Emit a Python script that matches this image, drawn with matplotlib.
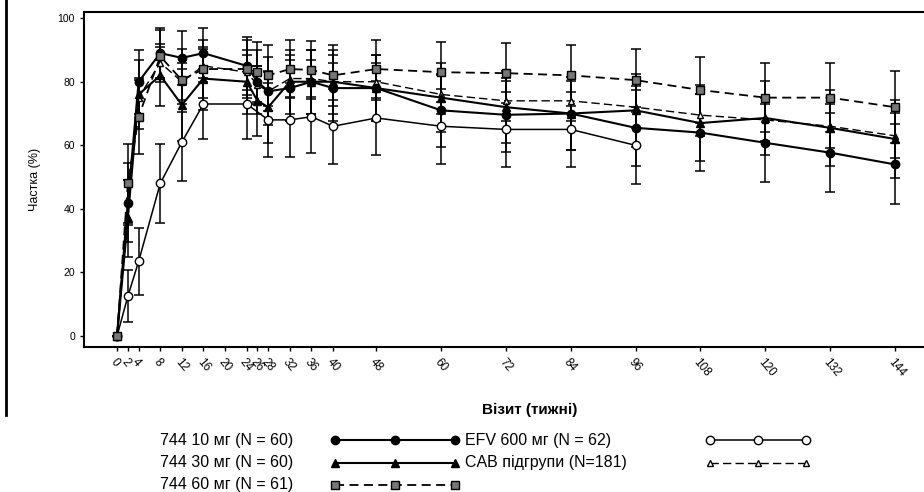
import numpy as np
import matplotlib
matplotlib.use("Agg")
import matplotlib.pyplot as plt

plt.rcParams['font.family'] = ['Liberation Sans', 'DejaVu Sans']

# visit weeks
weeks_cab = [0, 2, 4, 8, 12, 16, 24, 26, 28, 32, 36, 40, 48, 60, 72, 84, 96, 108, 120, 132, 144]
weeks_efv = [0, 2, 4, 8, 12, 16, 24, 28, 32, 36, 40, 48, 60, 72, 84, 96]
tick_weeks = [0, 2, 4, 8, 12, 16, 20, 24, 26, 28, 32, 36, 40, 48, 60, 72, 84, 96, 108, 120, 132, 144]

# proportion (%)
cab10 = [0, 42, 80, 89, 87.5, 89, 85, 80, 77, 78, 80, 78, 78, 71, 69.6, 70, 65.5, 64, 60.8, 57.7, 54]
cab30 = [0, 37, 76, 82, 72.7, 81, 80, 74, 72, 80, 80, 80, 78, 75, 72, 70, 71, 67, 68.6, 65.5, 62]
cab60 = [0, 48, 69, 88, 80.5, 84, 84, 83, 82, 84, 83.7, 82, 84, 83, 82.7, 82, 80.5, 77.4, 75, 75, 72]
cab_all = [0, 42, 75, 86, 80, 85, 83, 79, 77, 81, 81, 80, 80, 76, 74, 74, 72, 69.5, 68, 66, 63]
efv = [0, 12.5, 23.5, 48, 61, 73, 73, 68, 68, 69, 66, 68.6, 66, 65, 65, 60]

n_cab10, n_cab30, n_cab60, n_all, n_efv = 60, 60, 61, 181, 62


def ci95(vals, n):
    # half width of the 95% CI for a proportion given in %
    p = np.array(vals) / 100.0
    return 196 * np.sqrt(p * (1 - p) / n)


fig = plt.figure(figsize=(9.24, 4.92), dpi=100)
ax = fig.add_axes([0.091, 0.295, 0.909, 0.681])

series = [
    (weeks_efv, efv, n_efv, dict(marker='o', mfc='white', ms=6, ls='-', lw=1.1)),
    (weeks_cab, cab_all, n_all, dict(marker='^', mfc='white', ms=5, ls=(0, (6, 3)), lw=1.0)),
    (weeks_cab, cab10, n_cab10, dict(marker='o', mfc='black', ms=6, ls='-', lw=1.5)),
    (weeks_cab, cab30, n_cab30, dict(marker='^', mfc='black', ms=6, ls='-', lw=1.5)),
    (weeks_cab, cab60, n_cab60, dict(marker='s', mfc='#777777', ms=5.5, ls=(0, (5, 3)), lw=1.3)),
]
for x, y, n, st in series:
    ax.errorbar(x, y, yerr=ci95(y, n), color='black', mec='black', capsize=3.5,
                elinewidth=1.1, capthick=1.1, **st)

ax.set_xlim(-6.1, 149.4)
ax.set_ylim(-3.4, 102)
ax.set_yticks([0, 20, 40, 60, 80, 100])
ax.set_xticks(tick_weeks)
ax.set_xticklabels([str(w) for w in tick_weeks], rotation=-50, ha='left',
                   rotation_mode='anchor', fontsize=8.5)
ax.tick_params(axis='y', labelsize=7.5, length=3, width=1)
ax.tick_params(axis='x', length=3, width=1)
ax.spines['right'].set_visible(False)
for s in ['left', 'bottom', 'top']:
    ax.spines[s].set_linewidth(1.5)
ax.set_ylabel("Частка (%)", fontsize=9, labelpad=12)

fig.text(0.573, 1 - 410 / 492, "Візит (тижні)", ha='center', va='center',
         fontsize=11, fontweight='bold')

# legend drawn on an overlay in pixel units
lax = fig.add_axes([0, 0, 1, 1], zorder=-1)
lax.set_xlim(0, 924)
lax.set_ylim(492, 0)
lax.axis('off')

rows = [440, 463, 485]
left_labels = ["744 10 мг (N = 60)", "744 30 мг (N = 60)", "744 60 мг (N = 61)"]
right_labels = ["EFV 600 мг (N = 62)", "CAB підгрупи (N=181)"]
left_styles = [series[2][3], series[3][3], series[4][3]]
right_styles = [series[0][3], series[1][3]]

for yy, lab, st in zip(rows, left_labels, left_styles):
    lax.text(160, yy, lab, fontsize=11.5, va='center', ha='left')
    lax.plot([335, 395, 455], [yy, yy, yy], color='black', mec='black', **st)
for yy, lab, st in zip(rows, right_labels, right_styles):
    lax.text(465, yy, lab, fontsize=11.5, va='center', ha='left')
    lax.plot([710, 758, 806], [yy, yy, yy], color='black', mec='black', **st)

# scan border line on the left
lax.plot([6, 6], [0, 415], color='black', lw=2)

fig.savefig("out.png", dpi=100)
